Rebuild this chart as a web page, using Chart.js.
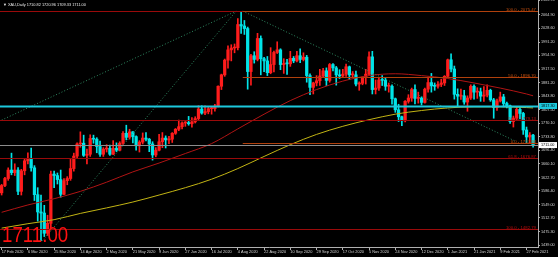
<!DOCTYPE html>
<html>
<head>
<meta charset="utf-8">
<script src="https://cdn.jsdelivr.net/npm/chart.js@4.4.1/dist/chart.umd.min.js"></script>
<style>
  html, body { margin: 0; padding: 0; background: #000; }
  canvas { display: block; }
</style>
</head>
<body>
<canvas id="myChart" width="558" height="257"></canvas>
<script>
// XAU daily candles, two sessions per candle
const opens = [
  1581,1601,1620,1643,1636,1643,1585,1641,
  1668,1675,1649,1576,1529,1526,1471,1498,
  1632,1628,1617,1577,1614,1620,1647,1681,
  1714,1716,1683,1686,1729,1727,1707,1686,
  1700,1702,1686,1702,1697,1716,1743,1732,
  1747,1734,1709,1719,1730,1727,1714,1684,
  1697,1720,1730,1725,1727,1743,1754,1761,
  1771,1772,1769,1774,1783,1809,1798,1802,
  1810,1810,1817,1871,1902,1942,1970,1975,
  1976,2039,2035,2028,1911,1954,1944,2001,
  1946,1940,1908,1930,1963,1970,1930,1933,
  1932,1947,1940,1954,1944,1950,1900,1868,
  1880,1886,1899,1913,1887,1930,1921,1902,
  1899,1904,1924,1902,1902,1877,1879,1895,
  1904,1951,1862,1866,1888,1887,1871,1871,
  1837,1807,1788,1777,1830,1839,1862,1838,
  1839,1827,1863,1881,1872,1871,1876,1880,
  1898,1943,1918,1849,1844,1845,1828,1839,
  1871,1855,1856,1844,1847,1860,1834,1813,
  1831,1842,1824,1818,1775,1784,1808,1797,
  1752,1733,1738
];
const highs = [
  1604,1623,1649,1689,1660,1650,1645,1674,
  1690,1703,1655,1595,1575,1547,1520,1640,
  1640,1635,1643,1620,1625,1672,1689,1717,
  1747,1738,1700,1739,1738,1731,1722,1704,
  1712,1711,1723,1717,1720,1748,1765,1754,
  1748,1736,1723,1744,1745,1729,1720,1704,
  1740,1745,1736,1735,1745,1756,1779,1774,
  1775,1789,1786,1788,1818,1818,1818,1815,
  1814,1822,1872,1904,1945,1981,1984,1986,
  2055,2075,2050,2032,1958,1965,2015,2008,
  1950,1952,1976,1967,1992,1973,1946,1944,
  1966,1952,1966,1973,1962,1955,1905,1882,
  1900,1917,1920,1921,1933,1933,1925,1916,
  1917,1931,1926,1911,1912,1883,1897,1917,
  1965,1966,1888,1893,1900,1895,1880,1875,
  1839,1822,1790,1832,1848,1866,1875,1855,
  1842,1866,1896,1906,1880,1884,1890,1900,
  1945,1959,1926,1864,1863,1860,1845,1875,
  1875,1867,1866,1870,1875,1863,1838,1836,
  1855,1849,1828,1820,1790,1815,1815,1800,
  1760,1745,1740
];
const lows = [
  1575,1598,1615,1630,1628,1576,1575,1630,
  1660,1640,1560,1504,1451,1462,1465,1482,
  1595,1605,1569,1576,1603,1615,1640,1675,
  1705,1680,1660,1680,1716,1690,1680,1680,
  1692,1683,1685,1693,1695,1713,1725,1727,
  1717,1697,1692,1714,1722,1693,1670,1679,
  1695,1704,1703,1715,1718,1740,1750,1755,
  1762,1765,1760,1771,1780,1795,1794,1796,
  1795,1803,1815,1862,1898,1920,1940,1962,
  1970,2015,2012,1863,1874,1934,1940,1902,
  1911,1900,1905,1910,1960,1916,1906,1903,
  1925,1935,1937,1935,1940,1882,1848,1850,
  1872,1873,1895,1873,1882,1913,1874,1892,
  1896,1898,1890,1895,1872,1860,1875,1877,
  1900,1850,1850,1860,1873,1860,1855,1822,
  1800,1775,1764,1774,1825,1830,1823,1825,
  1820,1825,1855,1855,1860,1866,1870,1873,
  1895,1910,1836,1817,1835,1822,1803,1835,
  1836,1838,1830,1830,1842,1830,1784,1805,
  1828,1815,1812,1770,1760,1780,1782,1740,
  1717,1717,1705
];
const closes = [
  1601,1620,1643,1636,1643,1585,1641,1668,
  1675,1649,1576,1529,1526,1471,1498,1632,
  1628,1617,1577,1614,1620,1647,1681,1714,
  1716,1683,1686,1729,1727,1707,1686,1700,
  1702,1686,1702,1697,1716,1743,1732,1747,
  1734,1709,1719,1730,1727,1714,1684,1697,
  1720,1730,1725,1727,1743,1754,1761,1771,
  1772,1769,1774,1783,1809,1798,1802,1810,
  1810,1817,1871,1902,1942,1970,1975,1976,
  2039,2035,2028,1911,1954,1944,2001,1946,
  1940,1908,1930,1963,1970,1930,1933,1932,
  1947,1940,1954,1944,1950,1900,1868,1880,
  1886,1899,1913,1887,1930,1921,1902,1899,
  1904,1924,1902,1902,1877,1879,1895,1904,
  1951,1862,1866,1888,1887,1871,1871,1837,
  1807,1788,1777,1830,1839,1862,1838,1839,
  1827,1863,1881,1872,1871,1876,1880,1898,
  1943,1918,1849,1844,1845,1828,1839,1871,
  1855,1856,1844,1847,1860,1834,1813,1831,
  1842,1824,1818,1775,1784,1808,1797,1752,
  1733,1738,1711
];

// moving averages, read at the date ticks
const maIndex  = [0,8,16,24,32,40,48,56,64,72,80,88,96,104,112,120,128,136,144,152,160,162];
const maRed    = [1528,1548,1565,1585,1610,1638,1662,1688,1715,1755,1795,1832,1862,1885,1900,1905,1900,1892,1880,1866,1850,1845];
const maYellow = [1485,1497,1508,1525,1540,1556,1575,1595,1618,1647,1680,1712,1740,1762,1780,1795,1805,1812,1815,1815,1813,1812];

const tickLabels = ["17 Feb 2020","6 Mar 2020","25 Mar 2020","14 Apr 2020","2 May 2020","21 May 2020",
  "9 Jun 2020","27 Jun 2020","16 Jul 2020","4 Aug 2020","22 Aug 2020","10 Sep 2020","29 Sep 2020",
  "17 Oct 2020","5 Nov 2020","24 Nov 2020","12 Dec 2020","1 Jan 2021","21 Jan 2021","9 Feb 2021","27 Feb 2021"];
const tickStep = 8;
const priceTicks = [1439.00,1475.30,1512.70,1549.00,1586.40,1622.70,1660.10,1696.40,1733.80,
  1770.10,1807.50,1843.80,1881.20,1917.50,1954.90,1991.20,2028.60,2064.90,2105.70];

// drawn objects: trend lines [index, price], fibonacci levels, marked prices
const trendFrom = [[0, 1779], [12.5, 1451], [73.5, 2075.47]];
const trendTo   = [[71.5, 2075.47], [71.5, 2075.47], [156.5, 1722]];
const fibAStart = 73.5;
const fibAPrices = [2075.47, 1896.70, 1717.93];
const fibALabels = ["100.0 - 2075.47", "50.0 - 1896.70", "0.0 - 1717.93"];
const fibBPrices = [2075.47, 1779.13, 1676.87, 1482.79];
const fibBLabels = ["", "50.0 - 1779.13", "61.8 - 1676.87", "100.0 - 1482.79"];
const markPrice = 1817.30;
const bidPrice = 1711.00;
const header = "XAU,Daily 1710.82 1720.96 1709.33 1711.00";

const slots = 164;
const labels = Array.from({ length: slots }, (_, i) => i);
const candleColor = closes.map((c, i) => (c >= opens[i] ? "#ff1c1c" : "#00e4e8"));

function spread(values) {
  const out = new Array(slots).fill(null);
  maIndex.forEach((k, j) => (out[k] = values[j]));
  return out;
}

const FONT = "'Liberation Sans', Arial, sans-serif";

const overlay = {
  id: "overlay",
  afterDatasetsDraw(chart) {
    const { ctx, chartArea: a, scales } = chart;
    const x = scales.x, y = scales.y;
    const py = (p) => Math.round(y.getPixelForValue(p)) + 0.5;

    ctx.save();
    ctx.beginPath();
    ctx.rect(a.left, a.top, a.right - a.left, a.bottom - a.top);
    ctx.clip();

    function hline(p, x0, color, w) {
      ctx.strokeStyle = color;
      ctx.lineWidth = w;
      ctx.beginPath();
      ctx.moveTo(x0, py(p));
      ctx.lineTo(a.right, py(p));
      ctx.stroke();
    }

    // trend lines
    ctx.setLineDash([1, 2]);
    ctx.strokeStyle = "#2f8a62";
    ctx.lineWidth = 1;
    trendFrom.forEach((f, i) => {
      ctx.beginPath();
      ctx.moveTo(x.getPixelForValue(f[0]), y.getPixelForValue(f[1]));
      ctx.lineTo(x.getPixelForValue(trendTo[i][0]), y.getPixelForValue(trendTo[i][1]));
      ctx.stroke();
    });
    ctx.setLineDash([]);

    // fibonacci B (full width, dark red)
    fibBPrices.forEach((p) => hline(p, a.left, "#9a0a0a", 1));
    // fibonacci A (from the august top)
    const ax = x.getPixelForValue(fibAStart);
    fibAPrices.forEach((p) => hline(p, ax, "#b0400c", 1));

    hline(bidPrice, a.left, "#8c8c8c", 1);
    hline(markPrice, a.left, "#1cc8dc", 2);

    ctx.font = "4.3px " + FONT;
    ctx.textAlign = "right";
    ctx.textBaseline = "alphabetic";
    ctx.fillStyle = "#c8500e";
    fibAPrices.forEach((p, i) => ctx.fillText(fibALabels[i], a.right - 2, py(p) - 1));
    ctx.fillStyle = "#b80c0c";
    fibBPrices.forEach((p, i) => fibBLabels[i] && ctx.fillText(fibBLabels[i], a.right - 2, py(p) - 1));

    // big price text
    ctx.save();
    ctx.translate(a.left + 2, a.bottom - 5);
    ctx.scale(0.85, 1);
    ctx.font = "22px " + FONT;
    ctx.textAlign = "left";
    ctx.fillStyle = "#ff1010";
    ctx.fillText(bidPrice.toFixed(2), 0, 0);
    ctx.restore();

    ctx.restore();
  },
  afterDraw(chart) {
    const { ctx, chartArea: a, scales } = chart;
    const y = scales.y;
    ctx.save();
    // price boxes on the scale
    ctx.font = "3.8px " + FONT;
    ctx.textBaseline = "middle";
    ctx.textAlign = "left";
    [[markPrice, "#1cc8dc"], [bidPrice, "#ffffff"]].forEach(([p, bg]) => {
      const yy = y.getPixelForValue(p);
      ctx.fillStyle = bg;
      ctx.fillRect(a.right + 1, yy - 3, 18, 6);
      ctx.fillStyle = "#000";
      ctx.fillText(p.toFixed(2), a.right + 3, yy + 0.3);
    });
    // header
    ctx.font = "3.9px " + FONT;
    ctx.fillStyle = "#e8e8e8";
    ctx.fillText("\u25BC " + header, 3, 5);
    ctx.restore();
  }
};

new Chart(document.getElementById("myChart").getContext("2d"), {
  data: {
    labels: labels,
    datasets: [
      {
        type: "line",
        data: spread(maRed),
        borderColor: "#b01414",
        borderWidth: 1,
        pointRadius: 0,
        spanGaps: true,
        cubicInterpolationMode: "monotone",
        order: 0,
      },
      {
        type: "line",
        data: spread(maYellow),
        borderColor: "#c2b414",
        borderWidth: 1,
        pointRadius: 0,
        spanGaps: true,
        cubicInterpolationMode: "monotone",
        order: 0,
      },
      {
        type: "bar",
        data: opens.map((o, i) => [o, closes[i]]),
        backgroundColor: candleColor,
        barThickness: 2.6,
        minBarLength: 1,
        grouped: false,
        order: 1,
      },
      {
        type: "bar",
        data: highs.map((h, i) => [lows[i], h]),
        backgroundColor: candleColor,
        barThickness: 1,
        grouped: false,
        order: 2,
      },
    ],
  },
  options: {
    responsive: false,
    animation: false,
    devicePixelRatio: 1,
    layout: { padding: 0, autoPadding: false },
    plugins: { legend: { display: false }, tooltip: { enabled: false } },
    scales: {
      x: {
        type: "category",
        offset: true,
        grid: { drawOnChartArea: false, drawTicks: true, tickLength: 3, color: "#b0b0b0", offset: false },
        border: { display: true, color: "#b0b0b0" },
        ticks: {
          autoSkip: false,
          maxRotation: 0,
          align: "start",
          padding: 0,
          color: "#d4d4d4",
          font: { size: 3.9, family: FONT },
          callback: (v) => tickLabels[v / tickStep],
        },
        afterBuildTicks: (s) => {
          s.ticks = tickLabels.map((_, j) => ({ value: j * tickStep }));
        },
        afterFit: (s) => {
          s.height = 10;
          s.paddingLeft = 0;
          s.paddingRight = 0;
        },
      },
      y: {
        position: "right",
        min: 1433.6,
        max: 2105.7,
        grid: { drawOnChartArea: false, drawTicks: true, tickLength: 2, color: "#b0b0b0" },
        border: { display: true, color: "#b0b0b0" },
        ticks: {
          padding: 1,
          color: "#d4d4d4",
          font: { size: 3.8, family: FONT },
          callback: (v) => Number(v).toFixed(2),
        },
        afterBuildTicks: (s) => {
          s.ticks = priceTicks.map((v) => ({ value: v }));
        },
        afterFit: (s) => {
          s.width = 20;
          s.paddingTop = 0;
          s.paddingBottom = 0;
        },
      },
    },
  },
  plugins: [overlay],
});
</script>
</body>
</html>
